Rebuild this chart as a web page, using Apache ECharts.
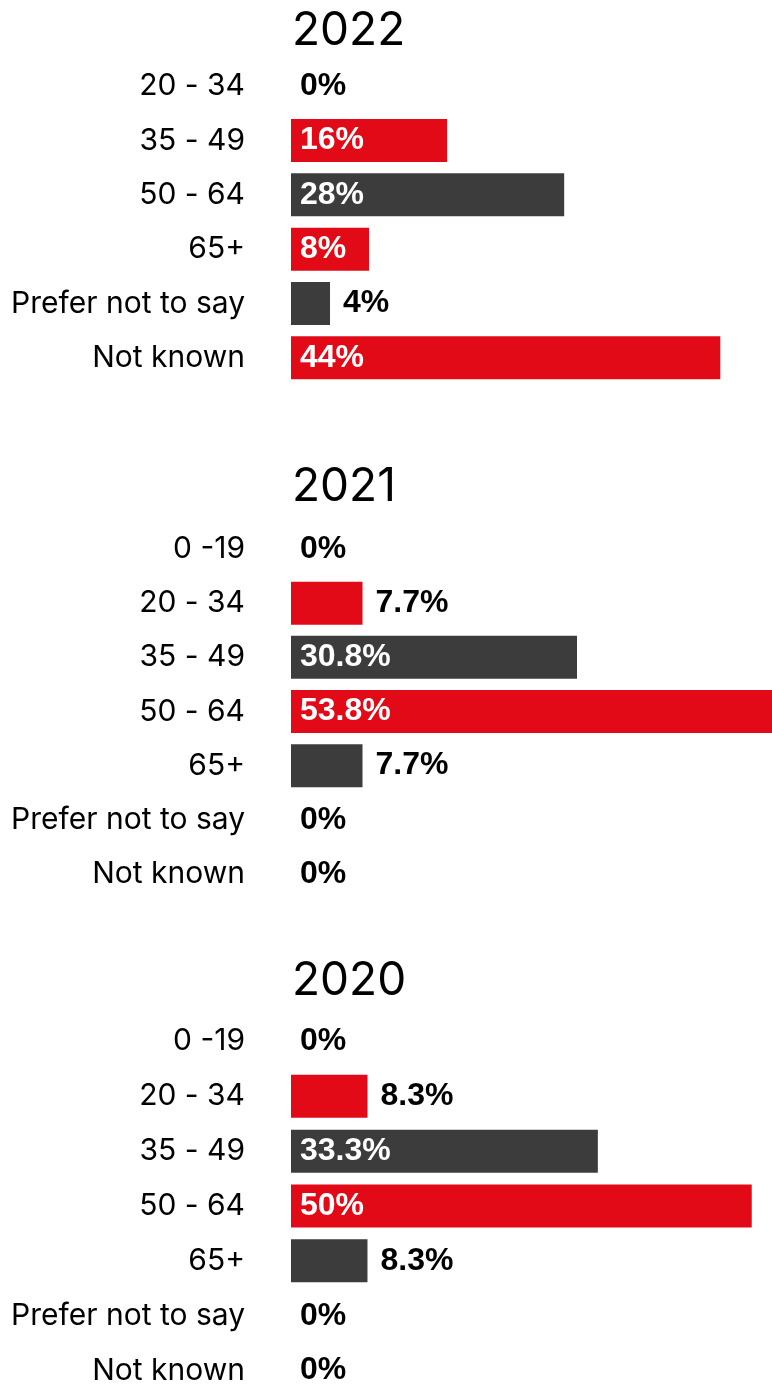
<!DOCTYPE html>
<html>
<head>
<meta charset="utf-8">
<script src="https://cdn.jsdelivr.net/npm/echarts@6/dist/echarts.min.js"></script>
<style>
  html, body { margin: 0; padding: 0; background: #ffffff; }
  #chart { width: 772px; height: 1384px; }
</style>
</head>
<body>
<div id="chart"></div>
<script>
// Age breakdown by year
const years = ['2022', '2021', '2020'];

const categories2022 = ['20 - 34', '35 - 49', '50 - 64', '65+', 'Prefer not to say', 'Not known'];
const categories2021 = ['0 -19', '20 - 34', '35 - 49', '50 - 64', '65+', 'Prefer not to say', 'Not known'];
const categories2020 = ['0 -19', '20 - 34', '35 - 49', '50 - 64', '65+', 'Prefer not to say', 'Not known'];

const values2022 = [0, 16, 28, 8, 4, 44];
const values2021 = [0, 7.7, 30.8, 53.8, 7.7, 0, 0];
const values2020 = [0, 8.3, 33.3, 50, 8.3, 0, 0];

const RED = '#e20a17';
const GREY = '#3c3c3c';
const FONT = 'Inter, "Noto Sans", sans-serif';
const VALUE_FONT = '"Liberation Sans", Arial, sans-serif';
const VALUE_FONT_SIZE = 32;

const CHART_HEIGHT = 1384;
const GRID_LEFT = 291;
const CHART_WIDTH = 772;
const GRID_WIDTH = CHART_WIDTH - GRID_LEFT;

// each panel: its own title and bar grid; the last grid runs past the bottom edge
const panels = [
  { year: years[0], cats: categories2022, vals: values2022, max: 49.3, titleTop: 8,   top: 59,   bottom: CHART_HEIGHT - 385 },
  { year: years[1], cats: categories2021, vals: values2021, max: 51.8, titleTop: 464, top: 522,  bottom: CHART_HEIGHT - 901 },
  { year: years[2], cats: categories2020, vals: values2020, max: 52.2, titleTop: 958, top: 1014, bottom: CHART_HEIGHT - 1398 }
];

// text width helper, used to decide if a value label fits inside its bar
const measureCtx = document.createElement('canvas').getContext('2d');
function textWidth(str) {
  measureCtx.font = 'bold ' + VALUE_FONT_SIZE + 'px ' + VALUE_FONT;
  return measureCtx.measureText(str).width;
}

function fmt(v) { return v + '%'; }

function barData(panel) {
  return panel.vals.map(function (v, i) {
    const text = fmt(v);
    const barPx = v / panel.max * GRID_WIDTH;
    const fits = v > 0 && barPx >= textWidth(text) + 12;
    return {
      value: v,
      itemStyle: { color: i % 2 === 1 ? RED : GREY },
      label: fits
        ? { position: 'insideLeft', distance: 9, color: '#ffffff' }
        : (v === 0
            ? { position: 'insideLeft', distance: 9, color: '#000000' }
            : { position: 'right', distance: 13, color: '#000000' })
    };
  });
}

const option = {
  backgroundColor: '#ffffff',
  animation: false,
  title: panels.map(function (p) {
    return {
      text: p.year,
      left: GRID_LEFT + 1,
      top: p.titleTop,
      padding: 0,
      textStyle: { fontFamily: FONT, fontSize: 46, fontWeight: 'normal', color: '#000000' }
    };
  }),
  grid: panels.map(function (p) {
    return {
      left: GRID_LEFT,
      right: 0,
      top: p.top,
      bottom: p.bottom,
      containLabel: false,
      outerBoundsMode: 'none'
    };
  }),
  xAxis: panels.map(function (p, i) {
    return { type: 'value', gridIndex: i, min: 0, max: p.max, show: false };
  }),
  yAxis: panels.map(function (p, i) {
    return {
      type: 'category',
      gridIndex: i,
      inverse: true,
      data: p.cats,
      axisLine: { show: false },
      axisTick: { show: false },
      splitLine: { show: false },
      axisLabel: {
        fontFamily: FONT,
        fontSize: 30,
        color: '#000000',
        margin: 46,
        padding: [4, 0, 0, 0]
      }
    };
  }),
  series: panels.map(function (p, i) {
    return {
      type: 'bar',
      xAxisIndex: i,
      yAxisIndex: i,
      barWidth: 43,
      data: barData(p),
      label: {
        show: true,
        fontFamily: VALUE_FONT,
        fontSize: VALUE_FONT_SIZE,
        fontWeight: 'bold',
        formatter: function (d) { return fmt(d.value); }
      }
    };
  })
};

const chart = echarts.init(document.getElementById('chart'), null, { renderer: 'canvas' });
chart.setOption(option);
</script>
</body>
</html>
